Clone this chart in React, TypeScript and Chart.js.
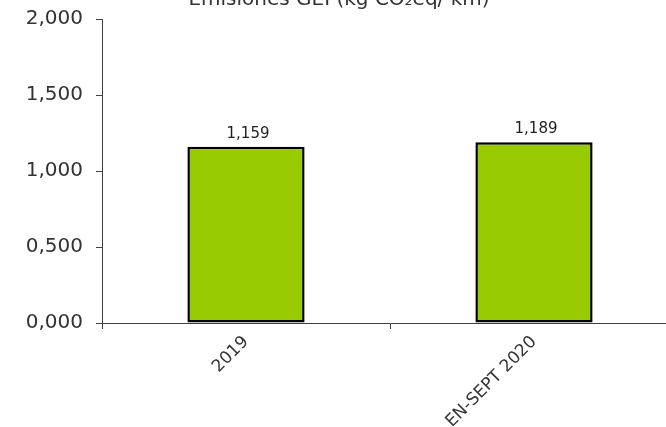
import React, { useEffect, useRef } from "react";
import { Chart, registerables } from "chart.js";

Chart.register(...registerables);

const categories = ["2019", "EN-SEPT 2020"];
const emissions = [1.159, 1.189];
const titleText = "Emisiones GEI (kg CO₂eq/ km)";
const yMin = 0;
const yMax = 2;
const yStep = 0.5;

const FONT = "'DejaVu Sans', Verdana, sans-serif";
const TEXT = "#333333";
const AXIS = "#404040";

const fmt = (v: number, d: number) => v.toFixed(d).replace(".", ",");

const barLabels = {
  id: "barLabels",
  afterDatasetsDraw(chart: any) {
    const ctx = chart.ctx;
    const meta = chart.getDatasetMeta(0);
    ctx.save();
    ctx.font = `15px ${FONT}`;
    ctx.fillStyle = "#222222";
    ctx.textAlign = "center";
    ctx.textBaseline = "alphabetic";
    meta.data.forEach((el: any, i: number) => {
      ctx.fillText(fmt(emissions[i], 3), el.x + 2, el.y - 9);
    });
    ctx.restore();
  },
};

export default function App() {
  const ref = useRef<HTMLCanvasElement | null>(null);

  useEffect(() => {
    if (!ref.current) return;
    const chart = new Chart(ref.current, {
      type: "bar",
      data: {
        labels: categories,
        datasets: [
          {
            data: emissions,
            backgroundColor: "#99CC00",
            borderColor: "#000000",
            borderWidth: 2.5,
            borderSkipped: false,
            categoryPercentage: 1,
            barPercentage: 0.407,
          },
        ],
      },
      options: {
        responsive: false,
        animation: false,
        layout: { padding: { left: 0, right: 144, top: 0, bottom: 0 } },
        plugins: {
          legend: { display: false },
          tooltip: { enabled: false },
          title: {
            display: true,
            text: titleText,
            color: TEXT,
            font: { family: FONT, size: 20, weight: "normal" },
            padding: { top: 8, bottom: 7 },
          },
        },
        scales: {
          x: {
            grid: {
              display: true,
              drawOnChartArea: false,
              drawTicks: true,
              tickLength: 6,
              color: AXIS,
              offset: true,
            },
            border: { display: true, color: AXIS, width: 1 },
            ticks: {
              color: TEXT,
              font: { family: FONT, size: 17 },
              minRotation: 45,
              maxRotation: 45,
              padding: 3,
              autoSkip: false,
            },
            afterFit: (s: any) => {
              s.height = 104;
            },
          },
          y: {
            min: yMin,
            max: yMax,
            grid: {
              display: true,
              drawOnChartArea: false,
              drawTicks: true,
              tickLength: 6,
              color: AXIS,
            },
            border: { display: true, color: AXIS, width: 1 },
            ticks: {
              stepSize: yStep,
              color: TEXT,
              font: { family: FONT, size: 20 },
              padding: 13,
              callback: (v: any) => fmt(Number(v), 3),
            },
            afterFit: (s: any) => {
              s.width = 102;
            },
          },
        },
      },
      plugins: [barLabels],
    });
    return () => chart.destroy();
  }, []);

  return (
    <div
      style={{
        position: "fixed",
        left: 0,
        top: 0,
        width: 666,
        height: 427,
        overflow: "hidden",
        background: "#ffffff",
      }}
    >
      <div style={{ position: "absolute", left: 0, top: -20, width: 822, height: 447 }}>
        <canvas ref={ref} width={822} height={447} style={{ display: "block" }} />
      </div>
    </div>
  );
}
